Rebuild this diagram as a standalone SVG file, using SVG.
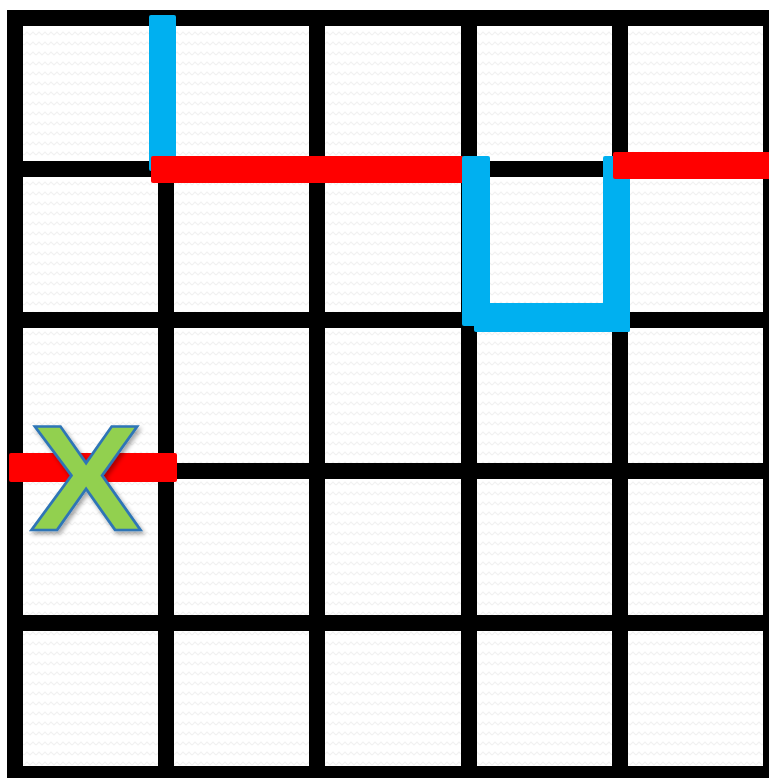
<svg xmlns="http://www.w3.org/2000/svg" width="769" height="778" viewBox="0 0 769 778">
<defs>
<pattern id="bgp" width="12" height="10" patternUnits="userSpaceOnUse">
<path d="M0 5 L3 2 L6 5 L9 2 L12 5" fill="none" stroke="#f1f1f1" stroke-width="1.2"/>
</pattern>
<filter id="sh" x="-20%" y="-20%" width="150%" height="150%">
<feDropShadow dx="2" dy="3" stdDeviation="2" flood-color="#000" flood-opacity="0.35"/>
</filter>
</defs>
<style>
.g{stroke:#000;stroke-width:16;stroke-linecap:butt}
.red{fill:#FF0000}
.blue{fill:#00B0F0}
.x{font-family:"Liberation Sans",Arial,sans-serif;font-weight:bold;font-size:150px;fill:#92D050;stroke:#2E75B6;stroke-width:2.5}
</style>
<rect width="769" height="778" fill="#ffffff"/>
<rect x="7" y="10" width="762" height="768" fill="url(#bgp)"/>
<g id="grid">
<line class="g" x1="15" y1="10" x2="15" y2="782"/>
<line class="g" x1="166" y1="10" x2="166" y2="782"/>
<line class="g" x1="317" y1="10" x2="317" y2="782"/>
<line class="g" x1="469" y1="10" x2="469" y2="782"/>
<line class="g" x1="620" y1="10" x2="620" y2="782"/>
<line class="g" x1="771" y1="10" x2="771" y2="782"/>
<line class="g" x1="7" y1="18" x2="779" y2="18"/>
<line class="g" x1="7" y1="169" x2="779" y2="169"/>
<line class="g" x1="7" y1="320" x2="779" y2="320"/>
<line class="g" x1="7" y1="471" x2="779" y2="471"/>
<line class="g" x1="7" y1="623" x2="779" y2="623"/>
<line class="g" x1="7" y1="774" x2="779" y2="774"/>
</g>
<g id="connectors">
<rect id="blue1" class="blue" x="149" y="15" width="27" height="156" rx="2"/>
<rect id="red1" class="red" x="151" y="156" width="313" height="27" rx="2"/>
<rect id="blueU-left" class="blue" x="462" y="156" width="28" height="170" rx="2"/>
<rect id="blueU-right" class="blue" x="603" y="156" width="27" height="176" rx="2"/>
<rect id="blueU-bottom" class="blue" x="474" y="303" width="156" height="29" rx="2"/>
<rect id="red2" class="red" x="613" y="152" width="160" height="27" rx="2"/>
<rect id="red3" class="red" x="9" y="453" width="168" height="29" rx="2"/>
</g>
<g id="mark">
<text class="x" x="86" y="530" text-anchor="middle" filter="url(#sh)" transform="translate(86,0) scale(1.12,1) translate(-86,0)">X</text>
</g>
</svg>
